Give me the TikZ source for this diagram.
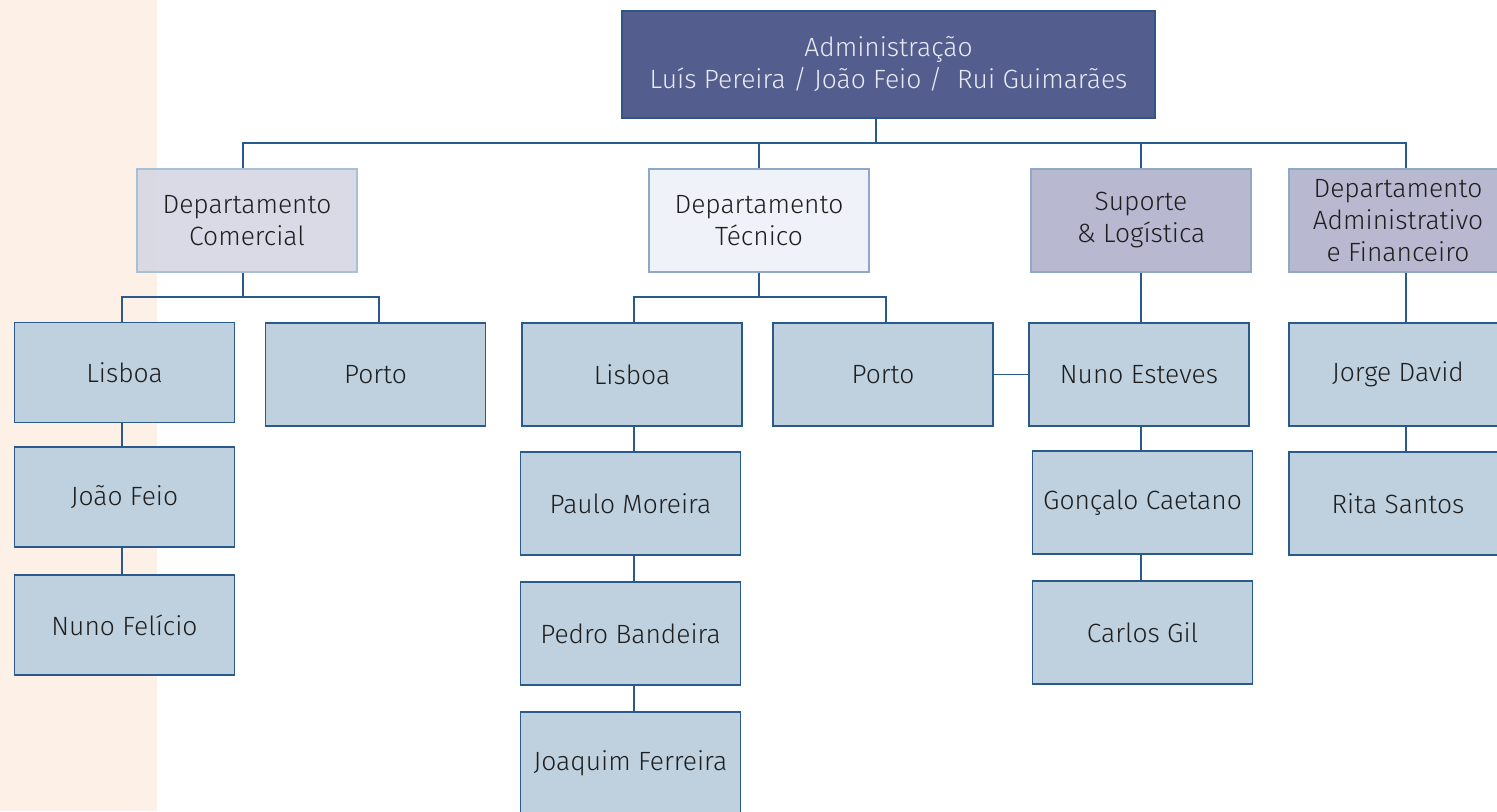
\documentclass[tikz,border=0pt]{standalone}
\usepackage{fontspec}
\setmainfont{Fira Sans Light}
\definecolor{peach}{HTML}{FDF0E6}
\definecolor{adminfill}{HTML}{535E8E}
\definecolor{adminline}{HTML}{2F5687}
\definecolor{admintext}{HTML}{E8EBF3}
\definecolor{deptA}{HTML}{D5D6E3}
\definecolor{deptAline}{HTML}{A9BFD6}
\definecolor{deptB}{HTML}{EFF2F8}
\definecolor{deptC}{HTML}{B8B9D0}
\definecolor{deptline}{HTML}{8FA8C6}
\definecolor{childfill}{HTML}{BFD1DF}
\definecolor{childline}{HTML}{2A5A8C}
\definecolor{txt}{HTML}{1E1E1E}
\begin{document}
\begin{tikzpicture}[x=0.5pt,y=-0.5pt,
  box/.style={rectangle, inner sep=0pt, align=center, text=txt,
    font=\fontsize{13.2}{16}\selectfont, minimum width=110pt, minimum height=51.5pt},
  dept/.style={box, draw=deptline, line width=0.6pt},
  child/.style={box, fill=childfill, draw=childline, line width=0.75pt},
  conn/.style={draw=childline, line width=0.75pt}]
\clip (0,0) rectangle (1497,811);
\fill[white] (0,0) rectangle (1497,811);
\fill[peach] (0,0) rectangle (157,811);

% top
\node[box, fill=adminfill, draw=adminline, line width=0.75pt, text=admintext,
  minimum width=266.5pt, minimum height=53.5pt] (adm) at (888.5,64.5)
  {Administração\\Luís Pereira / João Feio /\ \ Rui Guimarães};

% departments
\node[dept, fill=deptA, fill opacity=0.88, text opacity=1, draw=deptAline] (dc) at (247,220.5) {Departamento\\Comercial};
\node[dept, fill=deptB] (dt) at (759,220.5) {Departamento\\Técnico};
\node[dept, fill=deptC] (sl) at (1141,220.5) {Suporte\\\& Logística};
\node[dept, fill=deptC, minimum width=109pt] (daf) at (1398,220.5) {Departamento\\Administrativo\\e Financeiro};

% comercial
\node[child, minimum height=50pt] (lc) at (124.5,372.5) {Lisboa};
\node[child] (pc) at (375.5,374.5) {Porto};
\node[child, minimum height=50pt] (jf) at (124.5,497) {João Feio};
\node[child, minimum height=50pt] (nf) at (124.5,625) {Nuno Felício};

% tecnico
\node[child] (lt) at (632,374.5) {Lisboa};
\node[child] (pt) at (883,374.5) {Porto};
\node[child] (pm) at (630.5,503.5) {Paulo Moreira};
\node[child] (pb) at (630.5,633.5) {Pedro Bandeira};
\node[child] (jq) at (630.5,763.5) {Joaquim Ferreira};

% suporte
\node[child] (ne) at (1139,374.5) {Nuno Esteves};
\node[child] (gc) at (1142.5,502.5) {Gonçalo Caetano};
\node[child] (cg) at (1142.5,632.5) {Carlos Gil};

% adm fin
\node[child, minimum width=109pt] (jd) at (1398,374.5) {Jorge David};
\node[child, minimum width=109pt] (rs) at (1398,503.5) {Rita Santos};

% connectors
\coordinate (bus) at (876,143);
\coordinate (cbus) at (243,297);
\coordinate (tbus) at (759,297);
\draw[conn] (adm.south -| bus) -- (bus);
\draw[conn] ([xshift=-2pt]dc.north) |- (bus) -| ([xshift=4pt]daf.north);
\draw[conn] (dt.north) -- (dt.north |- bus);
\draw[conn] (sl.north) -- (sl.north |- bus);

\draw[conn] ([xshift=-2pt]dc.south) -- (cbus);
\draw[conn] ([xshift=-1.25pt]lc.north) |- (cbus) -| ([xshift=1.75pt]pc.north);
\draw[conn] ([xshift=-1.25pt]lc.south) -- ([xshift=-1.25pt]jf.north);
\draw[conn] ([xshift=-1.25pt]jf.south) -- ([xshift=-1.25pt]nf.north);

\draw[conn] (dt.south) -- (dt.south |- tbus);
\draw[conn] ([xshift=1pt]lt.north) |- (tbus) -| ([xshift=1.5pt]pt.north);
\draw[conn] ([xshift=1pt]lt.south) -- ([xshift=1pt]lt.south |- pm.north);
\draw[conn] ([xshift=1.75pt]pm.south) -- ([xshift=1.75pt]pb.north);
\draw[conn] ([xshift=1.75pt]pb.south) -- ([xshift=1.75pt]jq.north);

\draw[conn] (pt.east) -- (ne.west);
\draw[conn] (sl.south) -- (sl.south |- ne.north);
\draw[conn] ([xshift=1pt]ne.south) -- ([xshift=1pt]ne.south |- gc.north);
\draw[conn] ([xshift=-0.75pt]gc.south) -- ([xshift=-0.75pt]cg.north);

\draw[conn] ([xshift=4pt]daf.south) -- ([xshift=4pt]jd.north);
\draw[conn] ([xshift=4pt]jd.south) -- ([xshift=4pt]rs.north);
\end{tikzpicture}
\end{document}
